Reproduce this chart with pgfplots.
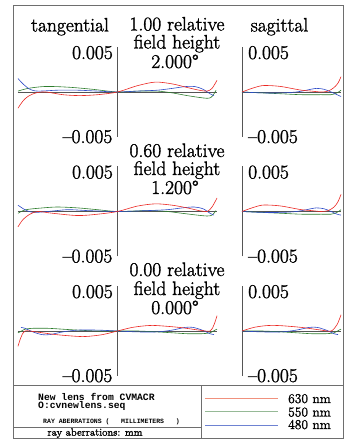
\documentclass[border=0pt]{standalone}
\usepackage{pgfplots}
\pgfplotsset{compat=1.18}
\usepackage{fontspec}
\newfontfamily\codefont{Liberation Mono}
\newfontfamily\heavy{Latin Modern Roman}[Ligatures=TeX, FakeBold=1.6]
\definecolor{cred}{RGB}{235,40,35}
\definecolor{cgreen}{RGB}{45,125,45}
\definecolor{cblue}{RGB}{45,75,200}
\definecolor{axgray}{RGB}{85,85,85}
\definecolor{framegray}{RGB}{110,110,110}
\definecolor{lred}{RGB}{240,145,125}
\definecolor{lgreen}{RGB}{150,185,150}
\definecolor{lblue}{RGB}{110,130,210}
\pgfplotsset{
  panel/.style={scale only axis, hide axis, clip=false, ymin=-0.005, ymax=0.005, height=90pt, anchor=south west},
  tang/.style={panel, xmin=-1, xmax=1, width=199pt},
  sag/.style={panel, xmin=0, xmax=1, width=99pt},
  every axis plot/.append style={no marks, line width=0.6pt},
  axl/.style={axgray, line width=0.8pt},
}
\newcommand{\bigtxt}{\heavy\fontsize{19.5}{22}\selectfont}
\begin{document}
\begin{tikzpicture}
\path[use as bounding box] (0,0) rectangle (347pt,441pt);
% ---------------- TOP PANEL (1.00) ----------------
\begin{axis}[tang, at={(18pt,304pt)}]
\addplot[axl] coordinates {(-1,0)(1,0)};
\addplot[axl] coordinates {(0,-0.005)(0,0.005)};
\addplot[cgreen, smooth] coordinates {(-1,0.0001)(-0.9,0.0004)(-0.75,0.0006)(-0.62,0.0006)(-0.45,0.0005)(-0.25,0.0003)(0,0)(0.2,0.0001)(0.4,0.0001)(0.55,-0.0001)(0.7,-0.0004)(0.82,-0.0006)(0.9,-0.0007)(0.94,-0.0006)(0.97,-0.0002)(0.99,0.0002)};
\addplot[cblue, smooth] coordinates {(-1,0.0015)(-0.95,0.0009)(-0.88,0.0003)(-0.8,0.0001)(-0.6,0.0002)(-0.4,0.0002)(-0.2,0.0001)(0,0)(0.2,0.0001)(0.4,0.0002)(0.55,0.0004)(0.68,0.0006)(0.78,0.0006)(0.86,0.0003)(0.93,-0.0002)(0.97,-0.0004)};
\addplot[cred, smooth] coordinates {(-1,-0.0018)(-0.95,-0.0010)(-0.9,-0.0005)(-0.82,-0.0001)(-0.72,0.0)(-0.55,-0.0003)(-0.38,-0.0004)(-0.2,-0.0003)(0,0)(0.2,0.0007)(0.38,0.0011)(0.55,0.0009)(0.7,0.0005)(0.82,0.0002)(0.9,0.0001)(0.95,0.0004)(1,0.0013)};
\node[anchor=base east, inner sep=0, font=\bigtxt] at ([xshift=-4.5pt, yshift=-12pt]axis cs:0,0.005) {0.005};
\node[anchor=base east, inner sep=0, font=\bigtxt] at ([xshift=-5pt, yshift=-6pt]axis cs:0,-0.005) {–0.005};
\end{axis}
\begin{axis}[sag, at={(242pt,304pt)}]
\addplot[axl] coordinates {(0,0)(1,0)};
\addplot[axl] coordinates {(0,-0.005)(0,0.005)};
\addplot[cgreen, smooth] coordinates {(0,0)(0.2,-0.0001)(0.4,-0.0002)(0.6,-0.0003)(0.8,-0.0003)(0.9,-0.0003)(0.96,-0.0001)(1.0,0.0002)};
\addplot[cblue, smooth] coordinates {(0,0)(0.2,-0.0001)(0.4,-0.0001)(0.55,0.0000)(0.65,0.0002)(0.75,0.0004)(0.83,0.0003)(0.9,0.0000)(0.96,-0.0003)(1.0,-0.0005)};
\addplot[cred, smooth] coordinates {(0,0)(0.1,0.0004)(0.2,0.0007)(0.3,0.0007)(0.4,0.0006)(0.5,0.0004)(0.6,0.0002)(0.7,0.0001)(0.8,0.0)(0.87,0.0001)(0.93,0.0005)(0.97,0.0010)(1.0,0.0017)};
\node[anchor=base west, inner sep=0, font=\bigtxt] at ([xshift=6pt, yshift=-12pt]axis cs:0,0.005) {0.005};
\node[anchor=base west, inner sep=0, font=\bigtxt] at ([xshift=6pt, yshift=-6pt]axis cs:0,-0.005) {–0.005};
\end{axis}
% ---------------- MIDDLE PANEL (0.60) ----------------
\begin{axis}[tang, at={(18pt,184.5pt)}]
\addplot[axl] coordinates {(-1,0)(1,0)};
\addplot[axl] coordinates {(0,-0.005)(0,0.005)};
\addplot[cgreen, smooth] coordinates {(-1,-0.0002)(-0.92,0.0002)(-0.75,0.0004)(-0.6,0.0005)(-0.4,0.0004)(-0.2,0.0002)(0,0)(0.3,0.0001)(0.5,0.0000)(0.65,-0.0002)(0.8,-0.0004)(0.9,-0.0005)(0.95,-0.0004)(0.99,0.0001)};
\addplot[cblue, smooth] coordinates {(-1,0.0007)(-0.93,0.0002)(-0.85,-0.0001)(-0.7,0.0000)(-0.5,0.0002)(-0.3,0.0001)(0,0)(0.3,0.0001)(0.5,0.0002)(0.65,0.0004)(0.77,0.0005)(0.86,0.0003)(0.93,-0.0002)(0.97,-0.0004)};
\addplot[cred, smooth] coordinates {(-1,-0.0017)(-0.95,-0.0009)(-0.88,-0.0003)(-0.8,0)(-0.65,-0.0002)(-0.4,-0.00045)(-0.2,-0.0003)(0,0)(0.2,0.0006)(0.38,0.00085)(0.55,0.0007)(0.7,0.0004)(0.82,0.0001)(0.9,0.0)(0.95,0.0005)(1,0.0015)};
\node[anchor=base east, inner sep=0, font=\bigtxt] at ([xshift=-4.5pt, yshift=-12pt]axis cs:0,0.005) {0.005};
\node[anchor=base east, inner sep=0, font=\bigtxt] at ([xshift=-5pt, yshift=-6pt]axis cs:0,-0.005) {–0.005};
\end{axis}
\begin{axis}[sag, at={(242pt,184.5pt)}]
\addplot[axl] coordinates {(0,0)(1,0)};
\addplot[axl] coordinates {(0,-0.005)(0,0.005)};
\addplot[cgreen, smooth] coordinates {(0,0)(0.2,-0.0001)(0.4,-0.0002)(0.6,-0.0003)(0.8,-0.0003)(0.9,-0.0003)(0.96,-0.0001)(1.0,0.0002)};
\addplot[cblue, smooth] coordinates {(0,0)(0.2,-0.0001)(0.4,-0.0001)(0.55,0.0000)(0.65,0.0002)(0.75,0.0004)(0.83,0.0003)(0.9,0.0000)(0.96,-0.0003)(1.0,-0.0004)};
\addplot[cred, smooth] coordinates {(0,0)(0.1,0.0004)(0.2,0.0007)(0.3,0.0007)(0.4,0.0006)(0.5,0.0004)(0.6,0.0002)(0.7,0.0001)(0.8,0.0)(0.87,0.0001)(0.93,0.0005)(0.97,0.0011)(1.0,0.0019)};
\node[anchor=base west, inner sep=0, font=\bigtxt] at ([xshift=6pt, yshift=-12pt]axis cs:0,0.005) {0.005};
\node[anchor=base west, inner sep=0, font=\bigtxt] at ([xshift=6pt, yshift=-6pt]axis cs:0,-0.005) {–0.005};
\end{axis}
% ---------------- BOTTOM PANEL (0.00) ----------------
\begin{axis}[tang, at={(18pt,65pt)}]
\addplot[axl] coordinates {(-1,0)(1,0)};
\addplot[axl] coordinates {(0,-0.005)(0,0.005)};
\addplot[cgreen, smooth] coordinates {(-1,-0.0002)(-0.98,-0.0001)(-0.93,0.0002)(-0.85,0.0003)(-0.7,0.0003)(-0.55,0.0002)(-0.4,0.0001)(-0.2,0.0000)(0,0)(0.2,0.0000)(0.4,-0.0001)(0.55,-0.0002)(0.7,-0.0003)(0.85,-0.0003)(0.93,-0.0002)(0.98,0.0001)(1,0.0002)};
\addplot[cblue, smooth] coordinates {(-0.97,0.0004)(-0.93,0.0003)(-0.85,-0.0001)(-0.76,-0.0004)(-0.68,-0.0004)(-0.55,-0.0001)(-0.4,0.0001)(-0.2,0.0001)(0,0)(0.2,-0.0001)(0.4,-0.0001)(0.55,0.0001)(0.68,0.0004)(0.76,0.0004)(0.85,0.0001)(0.93,-0.0003)(0.97,-0.0004)};
\addplot[cred, smooth] coordinates {(-1,-0.0017)(-0.97,-0.0007)(-0.93,0.0)(-0.82,-0.0001)(-0.62,-0.0004)(-0.4,-0.0006)(-0.3,-0.0006)(-0.15,-0.0004)(0,0)(0.15,0.0004)(0.3,0.0006)(0.4,0.0006)(0.62,0.0004)(0.82,0.0001)(0.93,0.0)(0.97,0.0007)(1,0.0017)};
\node[anchor=base east, inner sep=0, font=\bigtxt] at ([xshift=-4.5pt, yshift=-12pt]axis cs:0,0.005) {0.005};
\node[anchor=base east, inner sep=0, font=\bigtxt] at ([xshift=-5pt, yshift=-6pt]axis cs:0,-0.005) {–0.005};
\end{axis}
\begin{axis}[sag, at={(242pt,65pt)}]
\addplot[axl] coordinates {(0,0)(1,0)};
\addplot[axl] coordinates {(0,-0.005)(0,0.005)};
\addplot[cgreen, smooth] coordinates {(0,0)(0.2,0.0000)(0.4,-0.0001)(0.55,-0.0002)(0.7,-0.0003)(0.85,-0.0003)(0.93,-0.0002)(0.98,0.0001)(1,0.0002)};
\addplot[cblue, smooth] coordinates {(0,0)(0.2,-0.0001)(0.4,-0.0001)(0.55,0.0001)(0.68,0.0004)(0.76,0.0004)(0.85,0.0001)(0.93,-0.0003)(0.97,-0.0004)};
\addplot[cred, smooth] coordinates {(0,0)(0.12,0.0004)(0.25,0.0006)(0.38,0.0006)(0.6,0.0004)(0.8,0.0001)(0.9,0.0)(0.96,0.0007)(1,0.0018)};
\node[anchor=base west, inner sep=0, font=\bigtxt] at ([xshift=6pt, yshift=-12pt]axis cs:0,0.005) {0.005};
\node[anchor=base west, inner sep=0, font=\bigtxt] at ([xshift=6pt, yshift=-6pt]axis cs:0,-0.005) {–0.005};
\end{axis}
% ---------------- titles ----------------
\begin{scope}[every node/.style={inner sep=0, anchor=base, font=\bigtxt}]
\node at (70pt,409.5pt) {tangential};
\node at (279.5pt,409.5pt) {sagittal};
\node at (177pt,410.5pt) {1.00 relative};
\node at (177pt,392.5pt) {field height};
\node at (175pt,373pt) {2.000\textdegree};
\node at (177pt,284pt) {0.60 relative};
\node at (177pt,266pt) {field height};
\node at (175pt,247pt) {1.200\textdegree};
\node at (177pt,165pt) {0.00 relative};
\node at (177pt,146pt) {field height};
\node at (175pt,127pt) {0.000\textdegree};
\end{scope}
% ---------------- frame and info box ----------------
\draw[framegray, line width=0.8pt] (13pt,3pt) rectangle (343pt,436pt);
\draw[framegray, line width=0.8pt] (13pt,56pt) -- (343pt,56pt);
\draw[framegray, line width=0.8pt] (201pt,3pt) -- (201pt,56pt);
\draw[framegray, line width=0.8pt] (13pt,14pt) -- (201pt,14pt);
\node[anchor=base west, inner sep=0, font=\codefont\bfseries\fontsize{9.7}{11}\selectfont] at (38pt,40.3pt) {New lens from CVMACR};
\node[anchor=base west, inner sep=0, font=\codefont\bfseries\fontsize{9.7}{11}\selectfont] at (38pt,32pt) {O:cvnewlens.seq};
\node[anchor=base west, inner sep=0, font=\codefont\bfseries\fontsize{6.5}{8}\selectfont] at (43pt,17pt) {RAY ABERRATIONS (\ \ \ MILLIMETERS\ \ \ )};
\node[anchor=base, inner sep=0, font=\heavy\fontsize{10.5}{12}\selectfont] at (95pt,5.3pt) {ray aberrations: mm};
% legend
\draw[lred, line width=0.7pt] (205pt,42.5pt) -- (278pt,42.5pt);
\draw[lgreen, line width=0.7pt] (205pt,29.3pt) -- (278pt,29.3pt);
\draw[lblue, line width=0.7pt] (205pt,16pt) -- (278pt,16pt);
\node[anchor=base west, inner sep=0, font=\heavy\fontsize{13.5}{14}\selectfont] at (288pt,38pt) {630 nm};
\node[anchor=base west, inner sep=0, font=\heavy\fontsize{13.5}{14}\selectfont] at (288pt,24.5pt) {550 nm};
\node[anchor=base west, inner sep=0, font=\heavy\fontsize{13.5}{14}\selectfont] at (288pt,12pt) {480 nm};
\end{tikzpicture}
\end{document}
